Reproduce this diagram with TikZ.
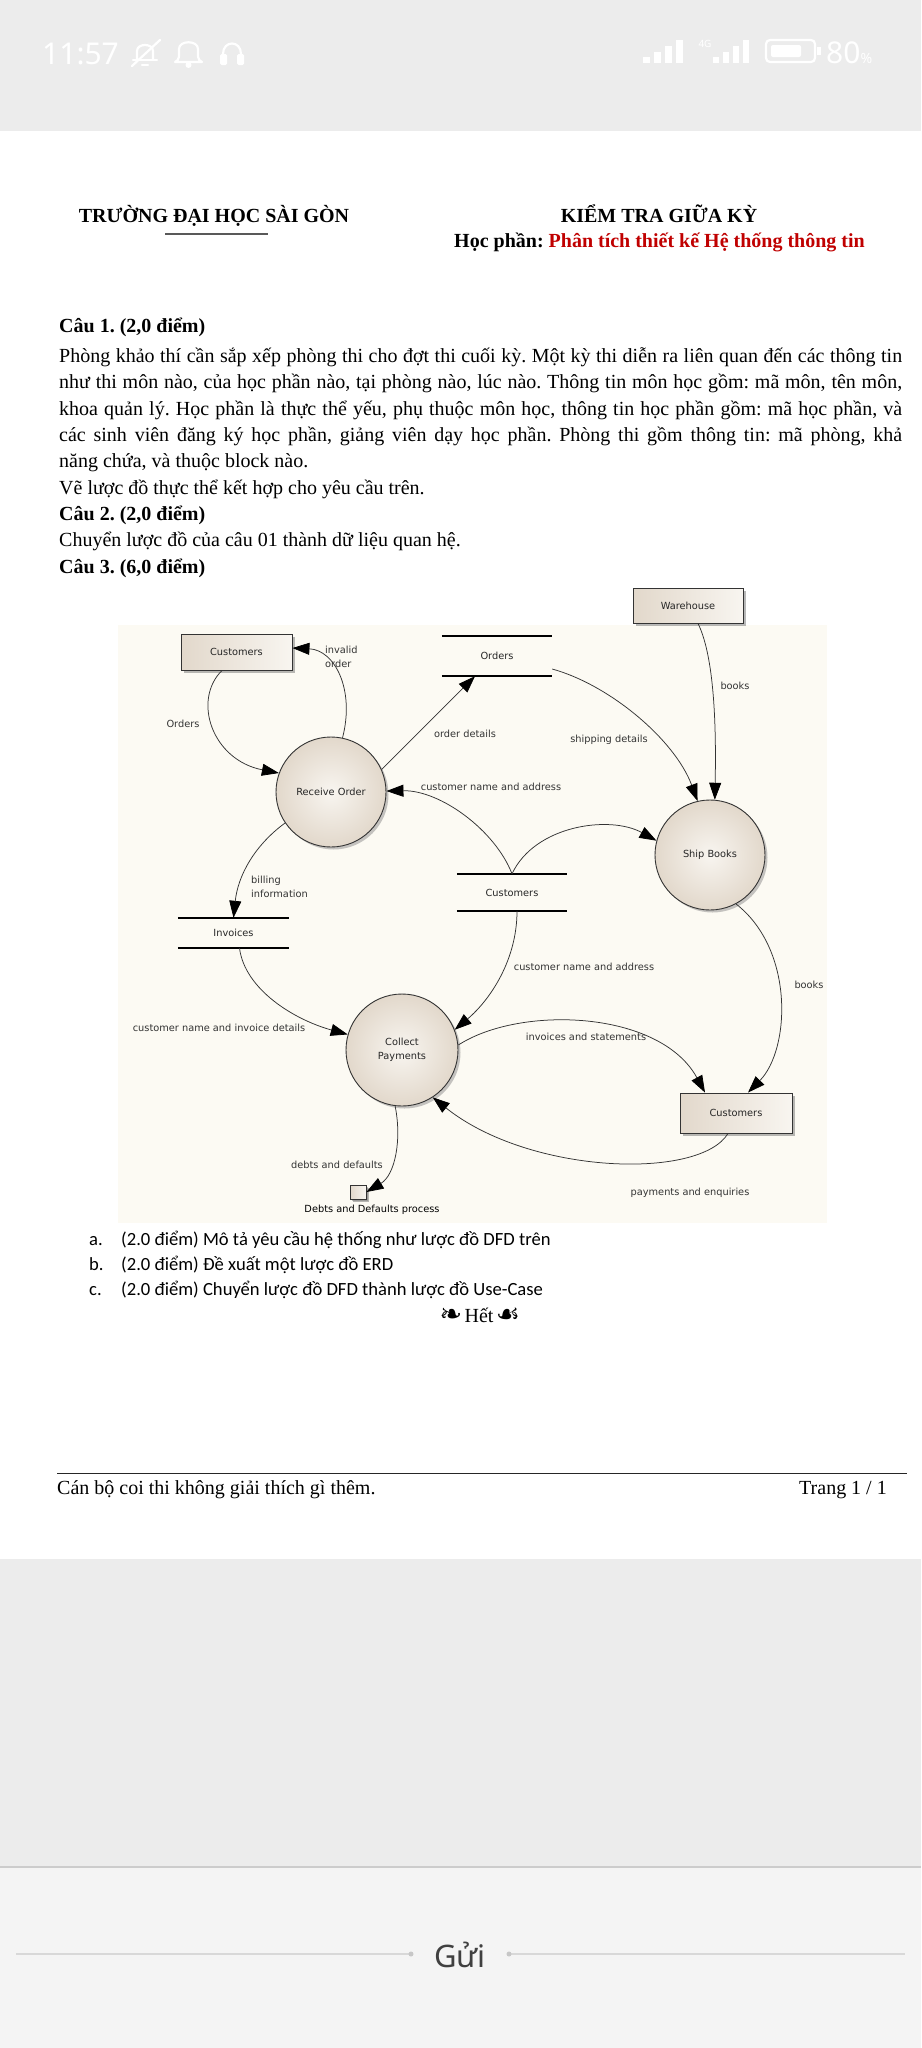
\documentclass[tikz,border=0pt]{standalone}
\usepackage{fontspec}
\setmainfont{Liberation Serif}
\newfontfamily\calfont{Carlito}
\newfontfamily\dfdfont{DejaVu Sans}
\newfontfamily\uifont{Noto Sans}
\newfontfamily\ornfont{DejaVu Sans}
\usetikzlibrary{arrows.meta,shadows}
\frenchspacing
\definecolor{statusgray}{HTML}{ECECEC}
\definecolor{botgray}{HTML}{F4F4F4}
\definecolor{dfdbg}{HTML}{FCFAF3}
\definecolor{nodeA}{HTML}{E2D8CB}
\definecolor{nodeB}{HTML}{F8F5F0}
\definecolor{flow}{HTML}{333333}
\definecolor{titlered}{HTML}{C00000}
\definecolor{guigray}{HTML}{D8D8D8}
\tikzset{
  dfdtext/.style={font=\dfdfont\fontsize{9.8}{14}\selectfont},
  procnode/.style={circle, draw=black!80, line width=0.9pt, inner color=nodeB, outer color=nodeA,
    inner sep=0pt, align=center, dfdtext, text=black!85,
    drop shadow={shadow xshift=2.5pt, shadow yshift=-2.5pt, fill=black!50, opacity=0.45}},
  extnode/.style={rectangle, draw=black!80, line width=0.9pt, left color=nodeA, right color=nodeB,
    inner sep=0pt, dfdtext, text=black!85,
    drop shadow={shadow xshift=2.5pt, shadow yshift=-2.5pt, fill=black!55, opacity=0.5}},
  storenode/.style={rectangle, inner sep=0pt, dfdtext, text=black!85},
  storeline/.style={line width=1.7pt, black},
  flowline/.style={draw=flow, line width=0.75pt, -{Triangle[length=17pt,width=12pt,color=black]}},
  flowlbl/.style={dfdtext, text=flow, inner sep=0pt},
  bodytxt/.style={font=\fontsize{20}{24}\selectfont, inner sep=0pt, anchor=base west},
  headtxt/.style={font=\fontsize{20}{24}\selectfont\bfseries, inner sep=0pt},
  itemtxt/.style={font=\calfont\fontsize{18.6}{22}\selectfont, inner sep=0pt, anchor=base west},
  orntxt/.style={font=\ornfont\fontsize{27}{28}\selectfont, inner sep=0pt, anchor=base},
  uiicon/.style={draw=white, line width=2.2pt, line cap=round, line join=round},
}
\begin{document}
\begin{tikzpicture}[x=1pt,y=-1pt]
\useasboundingbox (0,0) rectangle (921,2048);
\fill[white] (0,0) rectangle (921,2048);

% ---------- status bar ----------
\fill[statusgray] (0,0) rectangle (921,131);
\node[font=\uifont\fontsize{30}{32}\selectfont, text=white, inner sep=0pt, anchor=base west] (clock) at (42,64) {11:57};
% bell slash
\draw[uiicon] (137,60) -- (137,51) .. controls (137,43) and (153,43) .. (153,51) -- (153,60);
\draw[uiicon] (133,60) -- (157,60);
\draw[uiicon] (142,65) -- (148,65);
\draw[uiicon] (132,66) -- (160,40);
% bell
\draw[uiicon] (175,62) .. controls (180,60) and (179,55) .. (179,49) .. controls (179,40) and (198,40) .. (198,49) .. controls (198,55) and (197,60) .. (202,62) -- (175,62);
\fill[white] (188.5,65) circle (3pt);
% headphones
\draw[uiicon] (223,60) -- (223,54) .. controls (223,40) and (241,40) .. (241,54) -- (241,60);
\fill[white, rounded corners=1.5pt] (220,54) rectangle (227,65);
\fill[white, rounded corners=1.5pt] (237,54) rectangle (244,65);
% signal bars
\foreach \i/\h in {0/6,1/11,2/17,3/23}{
  \fill[white] (643+\i*11,63-\h) rectangle (650+\i*11,63);
  \fill[white] (713+\i*10,63-\h) rectangle (719+\i*10,63);
}
\node[font=\uifont\fontsize{10}{11}\selectfont, text=white, inner sep=0pt] (fourg) at (705,44) {4G};
% battery
\draw[white, line width=2.2pt, rounded corners=4pt] (766,40) rectangle (815,62);
\fill[white, rounded corners=2pt] (771,45) rectangle (801,57);
\fill[white] (817,47) rectangle (821,55);
\node[font=\uifont\fontsize{30}{32}\selectfont, text=white, inner sep=0pt, anchor=base west] (batt) at (826,63) {80\fontsize{14}{16}\selectfont\%};

% ---------- header ----------
\node[headtxt, anchor=base] (school) at (214,222) {TRƯỜNG ĐẠI HỌC SÀI GÒN};
\draw[line width=1.6pt, black!65] (165,234) -- (268,234);
\node[headtxt, anchor=base] (exam) at (659,222) {KIỂM TRA GIỮA KỲ};
\node[headtxt, anchor=base] (course) at (659.5,247) {Học phần: \textcolor{titlered}{Phân tích thiết kế Hệ thống thông tin}};

% ---------- questions ----------
\node[headtxt, anchor=base west] (q1) at (59,332) {Câu 1. (2,0 điểm)};
\node[bodytxt] (l1) at (59,362) {\makebox[843pt][s]{Phòng khảo thí cần sắp xếp phòng thi cho đợt thi cuối kỳ. Một kỳ thi diễn ra liên quan đến các thông tin}};
\node[bodytxt] (l2) at (59,388) {\makebox[843pt][s]{như thi môn nào, của học phần nào, tại phòng nào, lúc nào. Thông tin môn học gồm: mã môn, tên môn,}};
\node[bodytxt] (l3) at (59,415) {\makebox[843pt][s]{khoa quản lý. Học phần là thực thể yếu, phụ thuộc môn học, thông tin học phần gồm: mã học phần, và}};
\node[bodytxt] (l4) at (59,441) {\makebox[843pt][s]{các sinh viên đăng ký học phần, giảng viên dạy học phần. Phòng thi gồm thông tin: mã phòng, khả}};
\node[bodytxt] (l5) at (59,467) {năng chứa, và thuộc block nào.};
\node[bodytxt] (l6) at (59,494) {Vẽ lược đồ thực thể kết hợp cho yêu cầu trên.};
\node[headtxt, anchor=base west] (q2) at (59,520) {Câu 2. (2,0 điểm)};
\node[bodytxt] (l7) at (59,546) {Chuyển lược đồ của câu 01 thành dữ liệu quan hệ.};
\node[headtxt, anchor=base west] (q3) at (59,573) {Câu 3. (6,0 điểm)};

% ---------- DFD ----------
\fill[dfdbg] (118,625) rectangle (827,1223);

\node[extnode, minimum width=110pt, minimum height=35pt] (wh) at (688,605.5) {Warehouse};
\node[extnode, minimum width=111pt, minimum height=36pt] (cust1) at (236.5,652) {Customers};
\node[extnode, minimum width=112pt, minimum height=40pt] (cust2) at (736,1113) {Customers};
\node[procnode, minimum size=110pt] (ro) at (331,792) {Receive Order};
\node[procnode, minimum size=110pt] (sb) at (710,855) {Ship Books};
\node[procnode, minimum size=112pt] (cp) at (402,1050) {Collect\\Payments};

\node[storenode, minimum width=110pt, minimum height=40pt] (ord) at (497,656) {Orders};
\node[storenode, minimum width=110pt, minimum height=37pt] (cst) at (512,892.5) {Customers};
\node[storenode, minimum width=111pt, minimum height=30pt] (inv) at (233.5,933) {Invoices};
\foreach \s in {ord,cst,inv}{
  \draw[storeline] (\s.north west) -- (\s.north east);
  \draw[storeline] (\s.south west) -- (\s.south east);
}
\node[extnode, minimum width=16pt, minimum height=14pt, drop shadow={shadow xshift=1.5pt, shadow yshift=-1.5pt, fill=black!50, opacity=0.5}] (dd) at (358,1192) {};
\node[flowlbl, text=black, anchor=center] (ddl) at (372,1210) {Debts and Defaults process};

% flows
\draw[flowline] ([xshift=-14.5pt]cust1.south) .. controls (192,700) and (212,760) .. (ro.160);
\draw[flowline] (ro.78) .. controls (355,690) and (335,650) .. ([yshift=4pt]cust1.east);
\draw[flowline] (ro.24) -- ([xshift=-22pt]ord.south);
\draw[flowline] (cst.north) .. controls (495,830) and (440,790) .. (ro.1);
\draw[flowline] (cst.north) .. controls (535,825) and (610,815) .. (sb.165);
\draw[flowline] ([yshift=-13pt]ord.east) .. controls (610,685) and (675,740) .. (sb.103);
\draw[flowline] ([xshift=10pt]wh.south) .. controls (716,660) and (716,740) .. (sb.85);
\draw[flowline] (ro.214) .. controls (255,845) and (238,875) .. (inv.north);
\draw[flowline] ([xshift=6pt]inv.south) .. controls (245,990) and (295,1020) .. (cp.164);
\draw[flowline] ([xshift=5pt]cst.south) .. controls (517,960) and (490,1000) .. (cp.21);
\draw[flowline] (cp.5) .. controls (520,1005) and (660,1010) .. ([xshift=-31pt]cust2.north);
\draw[flowline] (sb.-62) .. controls (795,950) and (790,1050) .. ([xshift=12pt]cust2.north);
\draw[flowline] ([xshift=-8pt]cust2.south) .. controls (700,1180) and (530,1175) .. (cp.-57);
\draw[flowline] (cp.-97) .. controls (402,1140) and (395,1175) .. (dd.east);

% flow labels
\node[flowlbl, anchor=west, align=left] (f1) at (325,657) {invalid\\order};
\node[flowlbl] (f2) at (183,724) {Orders};
\node[flowlbl] (f3) at (465,734) {order details};
\node[flowlbl] (f4) at (609,740) {shipping details};
\node[flowlbl] (f5) at (735,686) {books};
\node[flowlbl] (f6) at (491,787) {customer name and address};
\node[flowlbl, anchor=west, align=left] (f7) at (251,887) {billing\\information};
\node[flowlbl] (f8) at (584,967) {customer name and address};
\node[flowlbl] (f9) at (809,985) {books};
\node[flowlbl] (f10) at (586,1037) {invoices and statements};
\node[flowlbl] (f11) at (219,1028) {customer name and invoice details};
\node[flowlbl] (f12) at (337,1165) {debts and defaults};
\node[flowlbl] (f13) at (690,1193) {payments and enquiries};

% ---------- items ----------
\node[itemtxt] (ia) at (89,1245) {a.};
\node[itemtxt] (ta) at (121,1245) {(2.0 điểm) Mô tả yêu cầu hệ thống như lược đồ DFD trên};
\node[itemtxt] (ib) at (89,1270) {b.};
\node[itemtxt] (tb) at (121,1270) {(2.0 điểm) Đề xuất một lược đồ ERD};
\node[itemtxt] (ic) at (89,1295) {c.};
\node[itemtxt] (tc) at (121,1295) {(2.0 điểm) Chuyển lược đồ DFD thành lược đồ Use-Case};
\node[bodytxt, anchor=base] (het) at (479,1322) {Hết};
\node[orntxt] (ornl) at (451,1323) {❧};
\node[orntxt] (ornr) at (508,1323) {☙};

% ---------- footer ----------
\draw[line width=1pt, black!85] (57,1473) -- (907,1473);
\node[bodytxt] (foot) at (57,1494) {Cán bộ coi thi không giải thích gì thêm.};
\node[bodytxt, anchor=base east] (page) at (887,1494) {Trang 1 / 1};

% ---------- bottom UI ----------
\fill[statusgray] (0,1559) rectangle (921,1867);
\fill[botgray] (0,1867) rectangle (921,2048);
\draw[line width=1.5pt, black!20] (0,1867) -- (921,1867);
\draw[guigray, line width=1.2pt] (16,1954) -- (411,1954);
\draw[guigray, line width=1.2pt] (509,1954) -- (905,1954);
\fill[black!22] (411,1954) circle (2.5pt);
\fill[black!22] (509,1954) circle (2.5pt);
\node[font=\uifont\fontsize{31}{33}\selectfont, text=black!75, inner sep=0pt, anchor=base] (send) at (460,1967) {Gửi};
\end{tikzpicture}
\end{document}
